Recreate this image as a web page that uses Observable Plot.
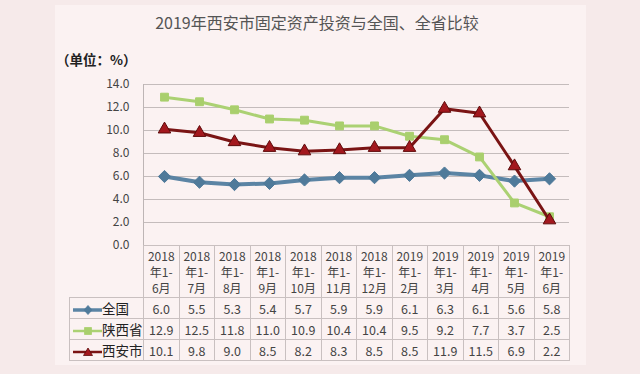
<!DOCTYPE html>
<html><head><meta charset="utf-8">
<script src="https://cdn.jsdelivr.net/npm/d3@7"></script>
<script src="https://cdn.jsdelivr.net/npm/@observablehq/plot@0.6"></script>
<style>
body{margin:0;background:#f6eaea;font-family:"Noto Sans CJK SC","Noto Sans",sans-serif;}
#wrap{position:relative;width:640px;height:374px;overflow:hidden;}
#panel{position:absolute;left:55px;top:5px;width:531px;height:360px;background:#fbf2f2;}
#title{position:absolute;left:0;width:634px;top:10px;text-align:center;font-size:16px;color:#555;}
#unit{position:absolute;left:56px;top:49px;font-size:13.5px;font-weight:bold;color:#222;}
#chart{position:absolute;left:0;top:70px;}
#tbl{position:absolute;left:69px;top:245px;border-collapse:collapse;table-layout:fixed;width:500px;font-size:12.5px;color:#444;}
#tbl td{border:1px solid #c9c0c0;text-align:center;padding:0;}
#tbl tr.h td{height:51px;font-size:12px;}
#tbl tr.h td div{height:16px;line-height:16px;overflow:visible;}
#tbl tr.h td.blank{border:none;border-bottom:1px solid #c9c0c0;}
#tbl tr.d td{height:20px;}
#tbl td.leg{text-align:left;font-size:13.5px;color:#222;white-space:nowrap;}
#tbl td.leg svg{vertical-align:middle;margin-left:2px;margin-right:0px;}
</style></head>
<body><div id="wrap"><div id="panel"></div>
<div id="title">2019年西安市固定资产投资与全国、全省比较</div>
<div id="unit">（单位：%）</div>
<div id="chart"></div>
<table id="tbl"></table>
</div>
<script>
const categories = ["2018年1-6月","2018年1-7月","2018年1-8月","2018年1-9月","2018年1-10月","2018年1-11月","2018年1-12月","2019年1-2月","2019年1-3月","2019年1-4月","2019年1-5月","2019年1-6月"];
const national = [6.0,5.5,5.3,5.4,5.7,5.9,5.9,6.1,6.3,6.1,5.6,5.8];
const shaanxi = [12.9,12.5,11.8,11.0,10.9,10.4,10.4,9.5,9.2,7.7,3.7,2.5];
const xian = [10.1,9.8,9.0,8.5,8.2,8.3,8.5,8.5,11.9,11.5,6.9,2.2];
const seriesNames = ["全国","陕西省","西安市"];
const yTicks = [0,2,4,6,8,10,12,14];

const seriesStyle = {
  "全国": {stroke:"#5b84a4", width:4, fill:"#4f7a9a", symbol:"diamond2", r:5.5, mstroke:"#4f7a9a"},
  "陕西省": {stroke:"#abd173", width:3, fill:"#a9cf6d", symbol:"square2", r:5, mstroke:"#a9cf6d"},
  "西安市": {stroke:"#7a1414", width:3, fill:"#a3181e", symbol:"triangle2", r:6, mstroke:"#5e0b0b"}
};
const values = {"全国":national,"陕西省":shaanxi,"西安市":xian};
const data = seriesNames.flatMap(s => values[s].map((v,i)=>({series:s, cat:categories[i], value:v})));

const marks = [Plot.ruleY(yTicks.slice(1), {stroke:"#c4bcbc", strokeWidth:1})];
for (const s of seriesNames) {
  const st = seriesStyle[s];
  const d = data.filter(o=>o.series===s);
  marks.push(Plot.line(d, {x:"cat", y:"value", stroke:st.stroke, strokeWidth:st.width, curve:"linear"}));
  marks.push(Plot.dot(d, {x:"cat", y:"value", symbol:()=>st.symbol, fill:st.fill, stroke:st.mstroke, strokeWidth:1, r:st.r}));
}
marks.push(Plot.axisY({ticks:yTicks, tickSize:0, tickPadding:14, tickFormat:d3.format(".1f"), fontSize:12, fill:"#444", label:null}));

const chart = Plot.plot({
  width:640, height:180,
  marginTop:14, marginBottom:5, marginLeft:143, marginRight:71,
  style:{background:"transparent", fontFamily:"'Noto Sans CJK SC','Noto Sans',sans-serif", overflow:"visible"},
  x:{type:"point", domain:categories, padding:0.5, axis:null},
  y:{domain:[0,14], axis:null, label:null},
  symbol:{type:"identity"},
  marks
});
document.getElementById("chart").appendChild(chart);
// left axis line from the y scale
const ys = chart.scale("y");
d3.select(chart).append("line").attr("x1",143.5).attr("x2",143.5)
  .attr("y1",ys.apply(14)).attr("y2",ys.apply(0)).attr("stroke","#bdb5b5");

// table
const tbl = d3.select("#tbl");
const cg = tbl.append("colgroup");
cg.append("col").style("width","74px");
categories.forEach(()=>cg.append("col").style("width","35.5px"));
const hr = tbl.append("tr").attr("class","h");
hr.append("td").attr("class","blank");
categories.forEach(c=>{
  const m = c.match(/^(\d+)年(.*-)(.*)$/);
  hr.append("td").html("<div>"+m[1]+"</div><div>年"+m[2]+"</div><div>"+m[3]+"</div>");
});
const markerPaths = {
  "diamond2": "M16,0.5 L20,5 L16,9.5 L12,5Z",
  "square2": "M12.5,1.5 h7 v7 h-7Z",
  "triangle2": "M16,1 L20.5,8.5 L11.5,8.5Z"
};
for (const s of seriesNames) {
  const st = seriesStyle[s];
  const tr = tbl.append("tr").attr("class","d");
  tr.append("td").attr("class","leg").html(
    `<svg width="30" height="10"><line x1="1" x2="30" y1="5" y2="5" stroke="${st.stroke}" stroke-width="${st.width-0.5}"/><path d="${markerPaths[st.symbol]}" fill="${st.fill}" stroke="${st.mstroke}" stroke-width="0.8"/></svg>${s}`);
  values[s].forEach(v=>tr.append("td").text(v.toFixed(1)));
}
</script></body></html>
